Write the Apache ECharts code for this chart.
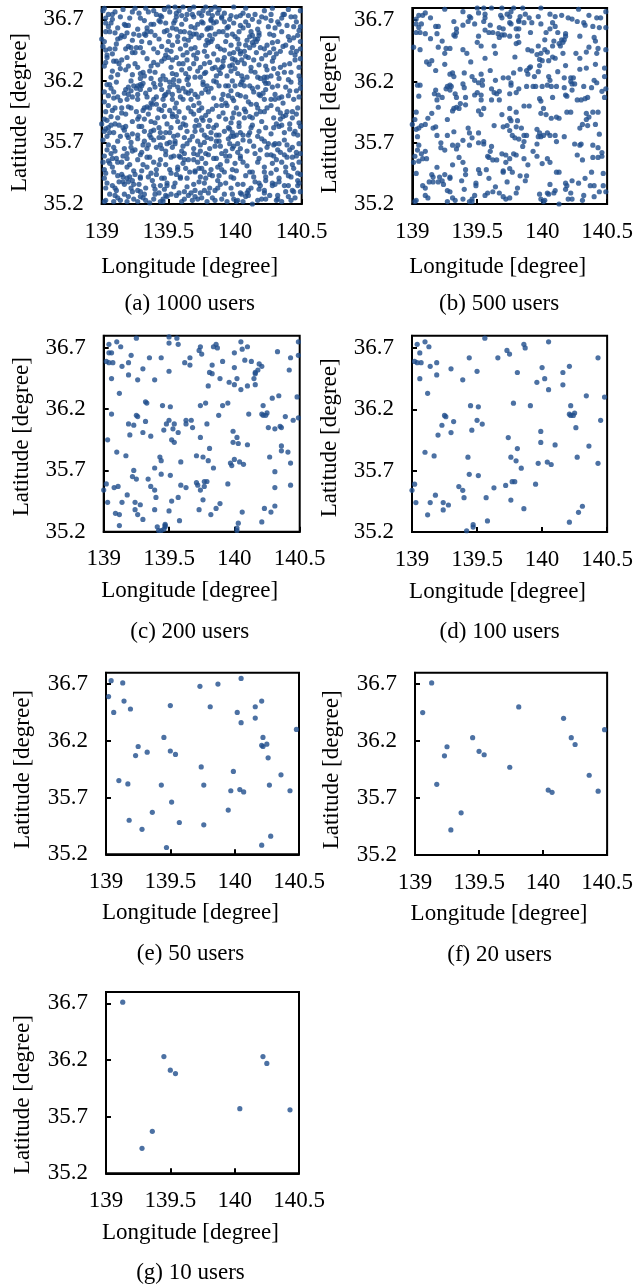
<!DOCTYPE html>
<html>
<head>
<meta charset="utf-8">
<script src="https://cdn.jsdelivr.net/npm/echarts@6/dist/echarts.min.js"></script>
<style>
  html, body { margin: 0; padding: 0; background: #fff; }
  #chart { width: 636px; height: 1287px; }
</style>
</head>
<body>
<div id="chart"></div>
<script>
// tick labels
const lonTicks = [139, 139.5, 140, 140.5];
const latTicks = [35.2, 35.7, 36.2, 36.7];
const captions = ['(a) 1000 users', '(b) 500 users', '(c) 200 users', '(d) 100 users',
  '(e) 50 users', '(f) 20 users', '(g) 10 users'];

// user locations [longitude, latitude]; every smaller set is contained in the next one
const users10 = [[139.13,36.71],[139.45,36.23],[139.50,36.11],[139.54,36.08],[139.36,35.57],
  [139.28,35.42],[140.04,35.77],[140.22,36.23],[140.25,36.17],[140.43,35.76]];

const extra20 = [[139.06,36.45],[139.81,36.50],[140.16,36.40],[140.48,36.30],[139.25,36.15],
  [139.23,36.07],[139.74,35.97],[139.17,35.82],[140.36,35.90],[140.07,35.75]];

const extra50 = [[139.04,36.73],[139.02,36.59],[139.14,36.55],[139.19,36.48],[139.73,36.68],
  [139.87,36.70],[140.05,36.75],[139.50,36.51],[140.02,36.45],[140.16,36.50],[140.21,36.55],
  [140.05,36.36],[139.32,36.10],[140.21,36.16],[140.22,36.15],[140.26,36.05],[139.99,35.93],
  [139.10,35.85],[139.43,35.81],[139.76,35.81],[139.97,35.76],[140.27,35.81],[139.51,35.66],
  [139.95,35.59],[139.18,35.50],[139.57,35.48],[139.76,35.46],[140.28,35.36],[140.21,35.28],
  [139.47,35.26]];

const extra100 = [[139.56,36.78],[139.10,36.75],[139.06,36.66],[139.86,36.73],[139.75,36.65],
  [139.44,36.62],[139.66,36.62],[140.43,36.62],[139.04,36.58],[139.07,36.58],[139.19,36.58],
  [139.30,36.53],[140.00,36.54],[139.39,36.44],[139.96,36.42],[139.12,36.33],[140.34,36.31],
  [139.78,36.25],[139.91,36.23],[139.51,36.22],[140.24,36.15],[139.26,36.14],[139.46,36.03],
  [140.45,36.11],[139.30,36.01],[139.20,35.99],[139.99,36.02],[139.81,35.88],[140.10,35.91],
  [139.80,35.78],[139.84,35.72],[139.44,35.67],[139.02,35.59],[139.00,35.54],[139.39,35.54],
  [139.63,35.56],[139.72,35.58],[139.77,35.61],[139.79,35.61],[139.40,35.48],[139.03,35.44],
  [139.14,35.44],[139.24,35.44],[139.24,35.38],[139.86,35.39],[140.31,35.41],[139.12,35.34],
  [139.58,35.29],[139.47,35.24],[139.42,35.21]];

const extra200 = [[139.25,36.78],[139.50,36.79],[139.50,36.74],[139.57,36.73],[139.74,36.71],
  [139.84,36.71],[140.06,36.69],[140.10,36.71],[140.49,36.75],[139.04,36.66],[139.21,36.64],
  [139.35,36.62],[140.00,36.66],[140.33,36.67],[140.49,36.64],[139.62,36.58],[139.66,36.56],
  [139.83,36.56],[139.91,36.59],[140.08,36.60],[140.13,36.59],[140.19,36.57],[140.18,36.52],
  [140.15,36.45],[139.83,36.49],[140.42,36.52],[139.26,36.44],[139.89,36.45],[140.00,36.40],
  [140.10,36.39],[139.80,36.39],[140.29,36.29],[139.32,36.26],[139.74,36.23],[139.95,36.25],
  [139.06,36.16],[140.11,36.16],[139.88,36.15],[140.39,36.14],[140.49,36.13],[139.48,36.08],
  [139.53,36.04],[139.63,36.11],[139.67,36.11],[139.63,36.08],[139.68,36.05],[139.79,36.08],
  [139.19,36.08],[140.31,36.04],[140.35,36.06],[139.36,35.98],[139.57,36.01],[139.03,35.95],
  [140.02,35.97],[139.52,35.95],[139.54,35.93],[140.03,35.92],[140.36,35.86],[140.41,35.85],
  [139.44,35.78],[139.71,35.82],[140.00,35.79],[139.98,35.74],[139.59,35.77],[139.39,35.72],
  [139.23,35.70],[139.22,35.65],[139.25,35.63],[139.34,35.63],[140.31,35.69],[139.08,35.56],
  [139.11,35.57],[139.59,35.58],[139.71,35.60],[139.74,35.54],[140.31,35.56],[140.43,35.58],
  [139.52,35.45],[139.89,35.43],[139.39,35.38],[139.50,35.37],[139.73,35.38],[140.06,35.36],
  [140.23,35.39],[139.09,35.35],[139.26,35.34],[139.82,35.34],[139.30,35.30],[140.03,35.27],
  [139.12,35.25],[139.41,35.24],[139.44,35.21],[139.46,35.22],[140.02,35.23],[140.02,35.21],
  [140.36,36.05],[139.33,36.25],[139.47,35.25],[140.16,36.49],[139.77,35.57]];

const users500North = [[139.05,36.74],[139.08,36.74],[139.10,36.76],[139.03,36.71],[139.14,36.72],
  [139.25,36.79],[139.39,36.77],[139.44,36.73],[139.45,36.72],[139.50,36.80],[139.51,36.76],
  [139.55,36.80],[139.56,36.75],[139.56,36.72],[139.61,36.80],[139.69,36.80],[139.68,36.74],
  [139.69,36.72],[139.73,36.75],[139.76,36.77],[139.78,36.80],[139.75,36.73],[139.85,36.80],
  [139.83,36.73],[139.82,36.70],[139.87,36.75],[139.90,36.72],[139.99,36.80],[139.97,36.73],
  [140.06,36.75],[140.10,36.73],[140.15,36.74],[140.20,36.72],[140.23,36.71],[140.28,36.79],
  [140.36,36.74],[140.42,36.72],[140.45,36.72],[140.49,36.77],
  [139.03,36.67],[139.07,36.67],[139.05,36.64],[139.03,36.60],[139.06,36.60],[139.10,36.59],
  [139.18,36.65],[139.20,36.65],[139.19,36.59],[139.32,36.69],[139.34,36.63],[139.34,36.60],
  [139.32,36.58],[139.39,36.66],[139.43,36.69],[139.48,36.67],[139.55,36.69],[139.60,36.66],
  [139.56,36.62],[139.59,36.60],[139.62,36.60],[139.67,36.64],[139.70,36.63],[139.66,36.59],
  [139.69,36.58],[139.71,36.58],[139.75,36.68],[139.76,36.67],[139.82,36.69],[139.80,36.63],
  [139.82,36.63],[139.86,36.68],[139.92,36.68],[139.99,36.67],[139.91,36.60],[140.03,36.60],
  [140.08,36.68],[140.10,36.65],[140.06,36.63],[140.12,36.60],[140.18,36.59],[140.27,36.69],
  [140.32,36.68],[140.33,36.66],[140.39,36.65],[140.44,36.64],[140.49,36.64],
  [139.14,36.55],[139.23,36.53],[139.20,36.48],[139.06,36.46],[139.01,36.48],[139.33,36.57],
  [139.26,36.47],[139.29,36.47],[139.25,36.43],[139.51,36.57],[139.50,36.52],[139.53,36.49],
  [139.67,36.56],[139.63,36.49],[139.75,36.57],[139.81,36.57],[139.82,36.52],[139.80,36.51],
  [139.89,36.46],[139.92,36.45],[139.97,36.49],[140.02,36.54],[140.09,36.53],[140.15,36.54],
  [140.17,36.54],[140.16,36.52],[140.18,36.57],[140.13,36.51],[140.14,36.49],[140.29,36.57],
  [140.40,36.56],[140.41,36.53],[140.36,36.48],[140.34,36.44],[140.43,36.47],[140.49,36.46],
  [140.08,36.49],
  [139.39,36.46],[139.42,36.43],[139.64,36.43],[139.56,36.39],[139.45,36.36],[139.11,36.36],
  [139.15,36.37],[139.13,36.34],[139.25,36.34],[139.79,36.40],[139.96,36.42],[139.99,36.43],
  [140.02,36.46],[140.04,36.44],[139.98,36.38],[140.00,36.37],[139.98,36.33],[140.05,36.37],
  [140.08,36.40],[140.10,36.39],[140.16,36.43],[140.26,36.43],[140.29,36.39],[140.42,36.43],
  [140.34,36.31],[140.29,36.30],[140.41,36.34],[140.48,36.31],[140.18,36.33],[139.90,36.31],
  [139.91,36.32],
  [139.18,36.29],[139.31,36.27],[139.29,36.26],[139.32,36.24],[139.40,36.27],[139.46,36.24],
  [139.48,36.21],[139.53,36.26],[139.54,36.21],[139.60,36.29],[139.64,36.21],[139.70,36.23],
  [139.74,36.23],[139.78,36.27],[139.83,36.30],[139.88,36.29],[139.89,36.26],[139.94,36.24],
  [139.97,36.28],[140.05,36.24],[140.06,36.21],[140.12,36.28],[140.17,36.23],[140.22,36.23],
  [140.24,36.23],[140.22,36.20],[140.23,36.18],[140.40,36.21],[140.48,36.24],[139.04,36.17],
  [139.06,36.17],[139.27,36.16],[139.29,36.17],[139.30,36.16],[139.26,36.14],[139.40,36.15],
  [139.39,36.18],[139.51,36.19],[139.54,36.17],[139.76,36.19],[139.76,36.17],[139.88,36.16],
  [139.93,36.16],[139.95,36.16],[140.00,36.16],[140.04,36.17],[140.07,36.16],[140.11,36.16],
  [140.25,36.18],[140.17,36.15],[140.23,36.13],[140.32,36.16],[140.38,36.15],[140.49,36.14],
  [140.46,36.12],[140.42,36.19],
  [139.18,36.13],[139.17,36.10],[139.20,36.09],[139.19,36.05],[139.23,36.07],[139.33,36.10],
  [139.34,36.07],[139.29,36.13],[139.41,36.07],[139.50,36.11],[139.48,36.09],[139.53,36.05],
  [139.61,36.14],[139.63,36.11],[139.67,36.12],[139.65,36.10],[139.61,36.05],[139.67,36.05],
  [139.53,36.09],[139.75,36.10],[139.80,36.11],[139.82,36.14],[139.98,36.06],[139.99,36.04],
  [140.08,36.07],[140.18,36.09],[140.19,36.08],[140.27,36.05],[140.30,36.05],[140.33,36.06],
  [140.35,36.07],[140.48,36.07],[139.05,36.08],[139.37,36.02]];

const users500South = [[139.20,35.99],[139.32,35.98],[139.34,35.99],[139.36,35.98],[139.41,36.01],
  [139.31,35.96],[139.51,35.96],[139.55,35.98],[139.53,35.93],[139.86,36.00],[139.90,36.00],
  [139.03,35.95],[139.02,35.89],[139.00,35.85],[139.12,35.90],[139.15,35.94],[139.27,35.89],
  [139.69,35.93],[139.75,35.98],[139.75,35.90],[139.76,35.88],[139.80,35.95],[139.81,35.88],
  [140.01,35.98],[139.99,35.94],[140.03,35.93],[140.07,35.90],[140.11,35.91],[140.13,35.90],
  [140.19,35.95],[140.22,35.95],[140.34,35.94],[140.36,35.91],[140.39,35.95],[140.43,35.95],
  [140.34,35.89],
  [139.07,35.84],[139.05,35.82],[139.10,35.85],[139.03,35.81],[139.16,35.82],[139.18,35.83],
  [139.19,35.76],[139.27,35.76],[139.32,35.79],[139.43,35.82],[139.44,35.78],[139.46,35.74],
  [139.51,35.78],[139.63,35.84],[139.70,35.83],[139.73,35.84],[139.75,35.80],[139.77,35.76],
  [139.80,35.83],[139.84,35.82],[139.79,35.74],[139.82,35.73],[139.86,35.76],[139.88,35.76],
  [139.96,35.81],[139.98,35.78],[139.97,35.75],[139.99,35.75],[140.01,35.76],[140.04,35.78],
  [140.06,35.76],[140.10,35.76],[140.17,35.75],[140.29,35.82],[140.31,35.85],[140.35,35.84],
  [140.41,35.85],[140.44,35.77],
  [139.04,35.75],[139.05,35.68],[139.04,35.64],[139.07,35.61],[139.10,35.63],[139.22,35.66],
  [139.25,35.64],[139.22,35.70],[139.31,35.68],[139.34,35.65],[139.35,35.68],[139.39,35.72],
  [139.44,35.68],[139.51,35.70],[139.55,35.71],[139.55,35.69],[139.61,35.67],[139.86,35.71],
  [139.85,35.67],[139.96,35.69],[139.93,35.63],[140.11,35.71],[140.25,35.69],[140.29,35.68],
  [140.30,35.69],[140.27,35.60],[140.39,35.68],[140.43,35.66],[140.46,35.62],[139.78,35.61],
  [139.80,35.60],[139.58,35.59],[139.60,35.63],
  [139.02,35.59],[139.01,35.54],[139.05,35.55],[139.08,35.57],[139.11,35.57],[139.19,35.50],
  [139.31,35.52],[139.36,35.58],[139.39,35.54],[139.59,35.58],[139.62,35.56],[139.65,35.56],
  [139.72,35.60],[139.72,35.54],[139.75,35.57],[139.69,35.61],[139.86,35.57],[139.89,35.52],
  [139.96,35.59],[140.00,35.53],[140.04,35.57],[140.06,35.54],[140.31,35.56],[140.39,35.58],
  [140.43,35.58],[140.46,35.59],
  [139.03,35.45],[139.15,35.44],[139.16,35.42],[139.21,35.42],[139.25,35.44],[139.29,35.42],
  [139.41,35.48],[139.41,35.44],[139.51,35.48],[139.52,35.45],[139.57,35.48],[139.70,35.47],
  [139.70,35.46],[139.75,35.49],[139.77,35.46],[139.88,35.43],[140.11,35.46],[140.13,35.46],
  [140.38,35.46],[140.47,35.45],
  [139.08,35.35],[139.10,35.33],[139.13,35.38],[139.16,35.38],[139.20,35.38],[139.23,35.39],
  [139.24,35.36],[139.29,35.41],[139.38,35.39],[139.49,35.37],[139.49,35.35],[139.59,35.41],
  [139.64,35.34],[139.73,35.38],[139.83,35.43],[139.87,35.39],[140.06,35.36],[140.18,35.37],
  [140.19,35.35],[140.23,35.39],[140.28,35.37],[140.33,35.41],[140.37,35.35],[140.40,35.35],
  [140.47,35.35],[139.27,35.31],[139.29,35.30],[139.40,35.32],[139.58,35.29],[139.62,35.30],
  [139.67,35.29],[139.81,35.33],[139.80,35.29],[140.10,35.31],[140.09,35.29],[140.18,35.32],
  [140.22,35.29],[140.32,35.27],[140.44,35.30],[140.49,35.30],
  [139.10,35.27],[139.12,35.25],[139.03,35.23],[139.02,35.22],[139.27,35.22],[139.31,35.25],
  [139.33,35.23],[139.39,35.24],[139.44,35.22],[139.46,35.24],[139.48,35.27],[139.46,35.22],
  [139.56,35.27],[139.70,35.26],[139.72,35.24],[139.75,35.25],[139.98,35.28],[139.99,35.24],
  [140.01,35.22],[140.02,35.23],[140.04,35.29],[140.05,35.28],[140.13,35.20],[140.20,35.24],
  [140.23,35.24],[140.31,35.23],[140.40,35.26]];

// points of panel (a) that are not in panel (b)
const extra1000 = [[139.15,36.57],[139.12,36.54],[139.03,36.45],[139.10,36.46],[139.18,36.46],
  [139.23,36.43],[139.04,36.39],[139.20,36.32],[139.12,36.25],[139.20,36.15],[139.24,36.16],
  [139.09,36.11],[139.12,36.07],[139.22,36.20],[139.02,36.11],[139.00,36.54],[139.02,36.32],
  [139.08,36.28],[139.24,36.58],[139.23,36.76],[139.02,36.79],
  [139.28,36.75],[139.35,36.76],[139.37,36.60],[139.47,36.60],[139.49,36.61],[139.49,36.45],
  [139.47,36.38],[139.50,36.39],[139.37,36.32],[139.39,36.35],[139.47,36.08],[139.27,36.05],
  [139.39,36.05],[139.44,36.68],[139.30,36.52],[139.43,36.54],[139.37,36.22],[139.45,36.13],
  [139.54,36.67],[139.64,36.74],[139.57,36.56],[139.62,36.54],[139.59,36.46],[139.67,36.46],
  [139.69,36.41],[139.72,36.43],[139.53,36.37],[139.58,36.34],[139.64,36.37],[139.69,36.34],
  [139.63,36.26],[139.72,36.28],[139.57,36.15],[139.72,36.07],[139.58,36.20],[139.65,36.23],
  [139.59,36.07],
  [139.82,36.78],[139.92,36.75],[139.90,36.71],[139.83,36.54],[139.88,36.60],[139.95,36.64],
  [139.94,36.57],[139.84,36.42],[139.77,36.34],[139.87,36.37],[139.92,36.39],[139.84,36.20],
  [139.98,36.20],[139.90,36.05],[139.95,36.08],[139.79,36.16],[139.78,36.49],[140.00,36.56],
  [140.04,36.73],[140.18,36.68],[140.04,36.42],[140.22,36.46],[140.24,36.49],[140.07,36.34],
  [140.12,36.31],[140.23,36.32],[140.02,36.26],[140.04,36.08],[140.14,36.11],[140.22,36.05],
  [140.13,36.57],[140.00,36.30],[140.19,36.22],
  [140.37,36.74],[140.35,36.60],[140.47,36.57],[140.32,36.52],[140.49,36.52],[140.45,36.41],
  [140.49,36.38],[140.27,36.24],[140.32,36.26],[140.40,36.08],[140.29,36.46],[140.37,36.27],
  [140.25,36.64],
  [139.05,36.00],[139.07,35.91],[139.10,35.98],[139.15,35.98],[139.02,35.79],[139.09,35.78],
  [139.17,35.80],[139.20,35.74],[139.12,35.54],[139.08,35.50],[139.15,35.54],[139.19,35.57],
  [139.23,35.63],[139.17,35.65],[139.09,35.46],[139.19,35.41],[139.03,35.33],[139.17,35.28],
  [139.20,35.26],[139.09,35.22],[139.14,35.23],[139.24,35.24],[139.23,35.30],[139.02,35.41],
  [139.12,35.71],
  [139.43,35.97],[139.47,36.00],[139.28,35.91],[139.32,35.89],[139.37,35.87],[139.42,35.90],
  [139.47,35.91],[139.28,35.83],[139.39,35.80],[139.48,35.78],[139.32,35.71],[139.37,35.74],
  [139.45,35.65],[139.49,35.69],[139.29,35.60],[139.44,35.56],[139.48,35.60],[139.34,35.50],
  [139.48,35.52],[139.35,35.42],[139.45,35.41],[139.33,35.33],[139.44,35.35],[139.49,35.26],
  [139.29,35.26],[139.40,35.28],[139.37,35.79],
  [139.58,35.95],[139.57,35.87],[139.62,35.90],[139.67,35.95],[139.69,36.00],[139.59,35.82],
  [139.64,35.79],[139.54,35.75],[139.62,35.74],[139.68,35.75],[139.72,35.71],[139.64,35.69],
  [139.69,35.65],[139.74,35.63],[139.54,35.59],[139.57,35.50],[139.63,35.49],[139.59,35.42],
  [139.64,35.41],[139.74,35.42],[139.54,35.34],[139.70,35.31],[139.62,35.24],[139.68,35.23],
  [139.53,35.91],
  [139.94,36.00],[139.88,35.91],[139.93,35.89],[139.97,35.86],[139.92,35.79],[139.89,35.67],
  [139.98,35.65],[139.93,35.59],[139.82,35.48],[139.87,35.50],[139.92,35.46],[139.98,35.48],
  [139.78,35.41],[139.93,35.37],[139.99,35.41],[139.87,35.33],[139.92,35.28],[139.79,35.22],
  [139.85,35.23],[139.90,35.24],[139.77,35.31],[139.82,35.78],
  [140.07,35.97],[140.12,36.01],[140.17,35.98],[140.03,35.83],[140.13,35.84],[140.23,35.82],
  [140.22,35.71],[140.04,35.65],[140.09,35.63],[140.14,35.67],[140.19,35.64],[140.24,35.60],
  [140.17,35.54],[140.22,35.50],[140.08,35.43],[140.23,35.42],[140.12,35.33],[140.08,35.26],
  [140.18,35.79],[140.02,35.69],
  [140.27,36.00],[140.32,35.97],[140.47,35.98],[140.43,35.90],[140.48,35.86],[140.37,35.78],
  [140.47,35.76],[140.33,35.69],[140.48,35.69],[140.32,35.64],[140.37,35.60],[140.28,35.53],
  [140.38,35.50],[140.43,35.52],[140.48,35.54],[140.27,35.45],[140.42,35.42],[140.47,35.39],
  [140.33,35.38],[140.43,35.31],[140.32,35.24],[140.42,35.23],[140.28,35.35]];

// more points of panel (a), estimated where the cloud is densest
const extra1000More = [
  [139.01,36.77],[139.08,36.70],[139.16,36.78],[139.12,36.63],[139.21,36.71],[139.17,36.66],
  [139.29,36.71],[139.33,36.79],[139.37,36.66],[139.41,36.74],[139.27,36.62],[139.47,36.78],
  [139.53,36.63],[139.58,36.77],[139.63,36.70],[139.66,36.78],[139.72,36.66],[139.60,36.73],
  [139.79,36.62],[139.84,36.67],[139.88,36.78],[139.94,36.63],[139.96,36.70],[139.80,36.75],
  [140.01,36.72],[140.04,36.65],[140.08,36.79],[140.13,36.70],[140.17,36.62],[140.22,36.77],
  [140.27,36.74],[140.30,36.63],[140.35,36.71],[140.40,36.78],[140.46,36.68],[140.48,36.61],
  [139.02,36.52],[139.08,36.42],[139.11,36.50],[139.17,36.56],[139.22,36.47],[139.04,36.41],
  [139.28,36.57],[139.31,36.43],[139.36,36.51],[139.40,36.57],[139.45,36.48],[139.48,36.41],
  [139.52,36.44],[139.57,36.52],[139.61,36.41],[139.65,36.53],[139.70,36.47],[139.73,36.55],
  [139.77,36.44],[139.85,36.58],[139.87,36.48],[139.93,36.52],[139.98,36.58],[139.79,36.53],
  [140.03,36.50],[140.07,36.44],[140.11,36.56],[140.19,36.47],[140.23,36.41],[140.11,36.47],
  [140.28,36.51],[140.31,36.42],[140.38,36.49],[140.44,36.55],[140.46,36.44],[140.26,36.58],
  [139.03,36.35],[139.07,36.23],[139.14,36.30],[139.19,36.39],[139.23,36.25],[139.09,36.36],
  [139.27,36.31],[139.34,36.38],[139.36,36.28],[139.42,36.33],[139.44,36.21],[139.29,36.22],
  [139.52,36.31],[139.56,36.25],[139.61,36.34],[139.66,36.30],[139.71,36.38],[139.74,36.31],
  [139.77,36.26],[139.81,36.35],[139.86,36.24],[139.91,36.36],[139.96,36.32],[139.85,36.31],
  [140.02,36.35],[140.09,36.23],[140.14,36.37],[140.15,36.27],[140.20,36.38],[140.24,36.29],
  [140.28,36.36],[140.33,36.22],[140.37,36.33],[140.42,36.27],[140.45,36.37],[140.49,36.21],
  [139.02,36.03],[139.07,36.14],[139.11,36.19],[139.14,36.04],[139.22,36.12],[139.09,36.06],
  [139.27,36.09],[139.31,36.18],[139.36,36.13],[139.38,36.01],[139.44,36.17],[139.46,36.05],
  [139.51,36.15],[139.56,36.02],[139.58,36.12],[139.65,36.17],[139.70,36.09],[139.73,36.02],
  [139.78,36.13],[139.84,36.06],[139.86,36.19],[139.91,36.09],[139.97,36.12],[139.93,36.02],
  [140.02,36.09],[140.05,36.19],[140.10,36.03],[140.13,36.14],[140.21,36.10],[140.16,36.01],
  [140.28,36.15],[140.30,36.09],[140.36,36.02],[140.41,36.12],[140.44,36.05],[140.49,36.18],
  [139.04,35.88],[139.08,35.96],[139.13,35.84],[139.18,35.93],[139.23,35.87],[139.22,35.98],
  [139.26,35.95],[139.30,35.83],[139.35,35.93],[139.40,35.86],[139.45,35.96],[139.49,35.85],
  [139.52,35.82],[139.56,35.91],[139.61,35.85],[139.65,35.98],[139.71,35.88],[139.73,35.96],
  [139.78,35.92],[139.83,35.97],[139.86,35.84],[139.91,35.94],[139.95,35.82],[139.98,35.90],
  [140.03,35.86],[140.08,35.95],[140.12,35.82],[140.16,35.93],[140.20,35.87],[140.24,35.98],
  [140.29,35.90],[140.33,35.83],[140.38,35.92],[140.41,35.81],[140.46,35.93],[140.49,35.83],
  [139.01,35.72],[139.06,35.78],[139.09,35.66],[139.14,35.75],[139.19,35.61],[139.23,35.77],
  [139.27,35.73],[139.30,35.62],[139.36,35.76],[139.41,35.66],[139.43,35.74],[139.48,35.63],
  [139.53,35.66],[139.57,35.76],[139.62,35.61],[139.66,35.72],[139.70,35.79],[139.74,35.68],
  [139.77,35.70],[139.81,35.65],[139.88,35.71],[139.90,35.61],[139.95,35.73],[139.99,35.67],
  [140.02,35.62],[140.06,35.72],[140.11,35.78],[140.15,35.61],[140.20,35.73],[140.24,35.66],
  [140.27,35.77],[140.34,35.62],[140.37,35.72],[140.41,35.64],[140.45,35.79],[140.49,35.61],
  [139.02,35.48],[139.06,35.53],[139.12,35.43],[139.16,35.59],[139.21,35.52],[139.24,35.47],
  [139.27,35.56],[139.30,35.47],[139.34,35.58],[139.37,35.45],[139.43,35.52],[139.47,35.41],
  [139.52,35.58],[139.56,35.44],[139.61,35.53],[139.66,35.46],[139.69,35.56],[139.73,35.49],
  [139.78,35.53],[139.81,35.44],[139.84,35.57],[139.90,35.48],[139.94,35.55],[139.97,35.42],
  [140.01,35.47],[140.04,35.59],[140.09,35.51],[140.14,35.42],[140.18,35.57],[140.22,35.46],
  [140.29,35.59],[140.31,35.48],[140.35,35.54],[140.40,35.43],[140.44,35.49],[140.49,35.44],
  [139.04,35.37],[139.06,35.28],[139.11,35.31],[139.17,35.36],[139.19,35.22],[139.22,35.33],
  [139.28,35.36],[139.32,35.28],[139.36,35.21],[139.39,35.35],[139.43,35.29],[139.47,35.32],
  [139.52,35.28],[139.55,35.37],[139.60,35.22],[139.65,35.27],[139.69,35.36],[139.74,35.29],
  [139.77,35.37],[139.83,35.25],[139.85,35.31],[139.89,35.36],[139.94,35.22],[139.97,35.33],
  [140.02,35.36],[140.06,35.22],[140.10,35.27],[140.15,35.38],[140.17,35.23],[140.22,35.31],
  [140.26,35.27],[140.30,35.36],[140.35,35.22],[140.38,35.30],[140.45,35.25],[140.48,35.37]];

const users500 = users500North.concat(users500South);
const users20 = users10.concat(extra20);
const users50 = users20.concat(extra50);
const users100 = users50.concat(extra100);
const users200 = users100.concat(extra200);
const users1000 = users500.concat(extra1000, extra1000More);

const FONT = 'Liberation Serif';
const DOT = '#1f4e8c';

// panel boxes in the figure
const panels = [
  { data: users1000, left: 101.7, top: 7, width: 200, height: 197, xGap: 51, yGap: 70, yPad: 14 },
  { data: users500, left: 412.3, top: 8, width: 197.7, height: 196, xGap: 51, yGap: 71, yPad: 16 },
  { data: users200, left: 103.7, top: 335.7, width: 196, height: 196, xGap: 48, yGap: 70, yPad: 6 },
  { data: users100, left: 412, top: 335.7, width: 199.3, height: 196.3, xGap: 48, yGap: 71, yPad: 8 },
  { data: users50, left: 106, top: 672.7, width: 193, height: 181.6, xGap: 47, yGap: 72, yPad: 12 },
  { data: users20, left: 415, top: 672.7, width: 193.3, height: 182.3, xGap: 47, yGap: 72, yPad: 12 },
  { data: users10, left: 106, top: 992, width: 193, height: 181.3, xGap: 48, yGap: 72, yPad: 24 },
];

const chart = echarts.init(document.getElementById('chart'), null, { renderer: 'canvas' });

const labelStyle = { fontFamily: FONT, fontSize: 23, color: '#000' };

const option = {
  animation: false,
  backgroundColor: '#fff',
  grid: panels.map(p => ({
    left: p.left, top: p.top, width: p.width, height: p.height,
    show: true, borderColor: '#000', borderWidth: 2, backgroundColor: 'transparent',
  })),
  xAxis: panels.map((p, i) => ({
    type: 'value', gridIndex: i, min: 139, max: 140.5,
    name: 'Longitude [degree]', nameLocation: 'middle', nameGap: p.xGap,
    nameTextStyle: Object.assign({ padding: [0, 24, 0, 0] }, labelStyle),
    axisLine: { show: true, lineStyle: { color: '#000', width: 2 } },
    axisTick: { show: true, inside: true, length: 5, customValues: lonTicks,
      lineStyle: { color: '#000', width: 2 } },
    axisLabel: Object.assign({ margin: 16, customValues: lonTicks, showMinLabel: true,
      showMaxLabel: true, formatter: v => String(v) }, labelStyle),
    splitLine: { show: false },
  })),
  yAxis: panels.map((p, i) => ({
    type: 'value', gridIndex: i, min: 35.2, max: 36.8,
    name: 'Latitude [degree]', nameLocation: 'middle', nameGap: p.yGap,
    nameTextStyle: Object.assign({ padding: [0, p.yPad, 0, 0] }, labelStyle),
    axisLine: { show: true, lineStyle: { color: '#000', width: 2 } },
    axisTick: { show: true, inside: true, length: 5, customValues: latTicks,
      lineStyle: { color: '#000', width: 2 } },
    axisLabel: Object.assign({ margin: 18, customValues: latTicks, showMinLabel: true,
      formatter: v => v.toFixed(1) }, labelStyle),
    splitLine: { show: false },
  })),
  series: panels.map((p, i) => ({
    type: 'scatter', xAxisIndex: i, yAxisIndex: i,
    data: p.data, symbol: 'circle', symbolSize: 5.2,
    itemStyle: { color: DOT },
    silent: true,
  })),
  graphic: panels.map((p, i) => ({
    type: 'text',
    x: p.left + p.width / 2 - 12,
    y: p.top + p.height + 100,
    style: { text: captions[i], fontFamily: FONT, fontSize: 23, fill: '#000',
      textAlign: 'center', textVerticalAlign: 'middle' },
  })),
};

chart.setOption(option);
</script>
</body>
</html>
